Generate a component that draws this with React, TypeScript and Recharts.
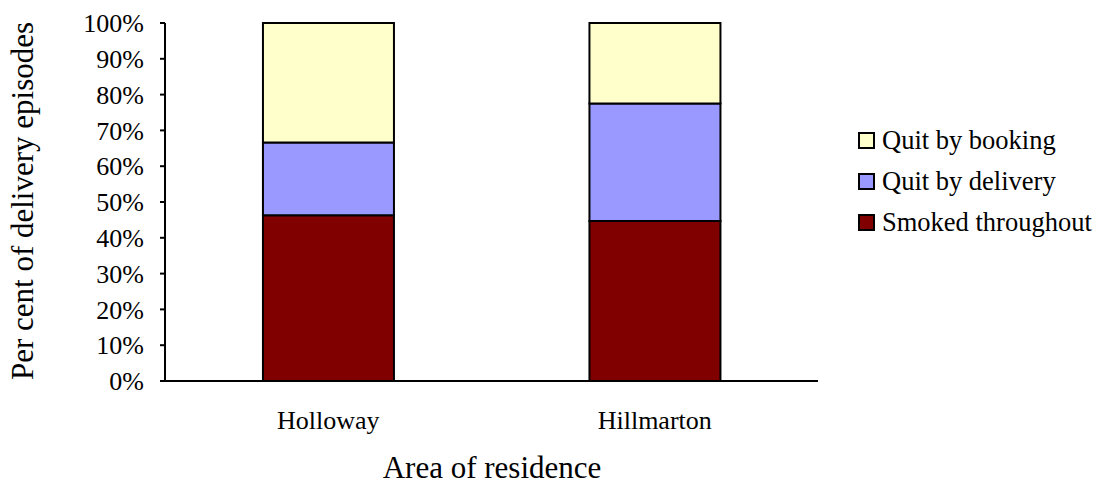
import React from 'react';
import { BarChart, Bar, XAxis, YAxis, Legend, Label } from 'recharts';

const areas = ['Holloway', 'Hillmarton'];
const smokedThroughout = [46.3, 44.7];
const quitByDelivery = [20.3, 32.8];
const quitByBooking = [33.4, 22.5];
const yTicks = [0, 10, 20, 30, 40, 50, 60, 70, 80, 90, 100];

const seriesKeys = ['smoked', 'delivery', 'booking'];
const seriesNames = ['Smoked throughout', 'Quit by delivery', 'Quit by booking'];
const seriesColors = ['#800000', '#9999FF', '#FFFFCC'];

const data = areas.map((area, i) => ({
  area,
  smoked: smokedThroughout[i],
  delivery: quitByDelivery[i],
  booking: quitByBooking[i],
}));

const FONT = "'Liberation Serif', 'Times New Roman', serif";

const LegendContent = () => (
  <div style={{ fontFamily: FONT, fontSize: 26.5, color: '#000' }}>
    {[2, 1, 0].map((i) => (
      <div key={i} style={{ display: 'flex', alignItems: 'center', height: 41, whiteSpace: 'nowrap' }}>
        <span
          style={{
            display: 'inline-block',
            width: 13,
            height: 13,
            background: seriesColors[i],
            border: '2px solid #000',
            marginRight: 7,
          }}
        />
        <span>{seriesNames[i]}</span>
      </div>
    ))}
  </div>
);

export default function App() {
  return (
    <div style={{ position: 'absolute', left: 0, top: 0, width: 1104, height: 484, background: '#fff' }}>
      <BarChart
        width={1104}
        height={484}
        data={data}
        margin={{ top: 23, right: 286, bottom: 0, left: 0 }}
        barCategoryGap="30%"
      >
        <XAxis
          dataKey="area"
          height={103}
          axisLine={{ stroke: '#000', strokeWidth: 2 }}
          tickLine={false}
          tickSize={0}
          tickMargin={30}
          tick={{ fill: '#000', fontSize: 26, fontFamily: FONT }}
        >
          <Label
            content={() => (
              <text x={492} y={478} textAnchor="middle" fill="#000" fontSize={31} fontFamily={FONT}>
                Area of residence
              </text>
            )}
          />
        </XAxis>
        <YAxis
          width={165}
          domain={[0, 100]}
          ticks={yTicks}
          interval={0}
          tickFormatter={(v: number) => `${v}%`}
          axisLine={{ stroke: '#000', strokeWidth: 2 }}
          tickLine={{ stroke: '#000', strokeWidth: 2 }}
          tickSize={5}
          tickMargin={16}
          tick={{ fill: '#000', fontSize: 26, fontFamily: FONT }}
        >
          <Label
            content={() => (
              <text
                x={33}
                y={201}
                transform="rotate(-90, 33, 201)"
                textAnchor="middle"
                fill="#000"
                fontSize={31}
                fontFamily={FONT}
              >
                Per cent of delivery episodes
              </text>
            )}
          />
        </YAxis>
        <Legend
          layout="vertical"
          align="center"
          verticalAlign="middle"
          content={LegendContent}
          wrapperStyle={{ position: 'absolute', left: 858, top: 120, width: 'auto', height: 'auto' }}
        />
        {seriesKeys.map((k, i) => (
          <Bar
            key={k}
            dataKey={k}
            name={seriesNames[i]}
            stackId="a"
            fill={seriesColors[i]}
            stroke="#000"
            strokeWidth={2}
            isAnimationActive={false}
          />
        ))}
      </BarChart>
    </div>
  );
}
